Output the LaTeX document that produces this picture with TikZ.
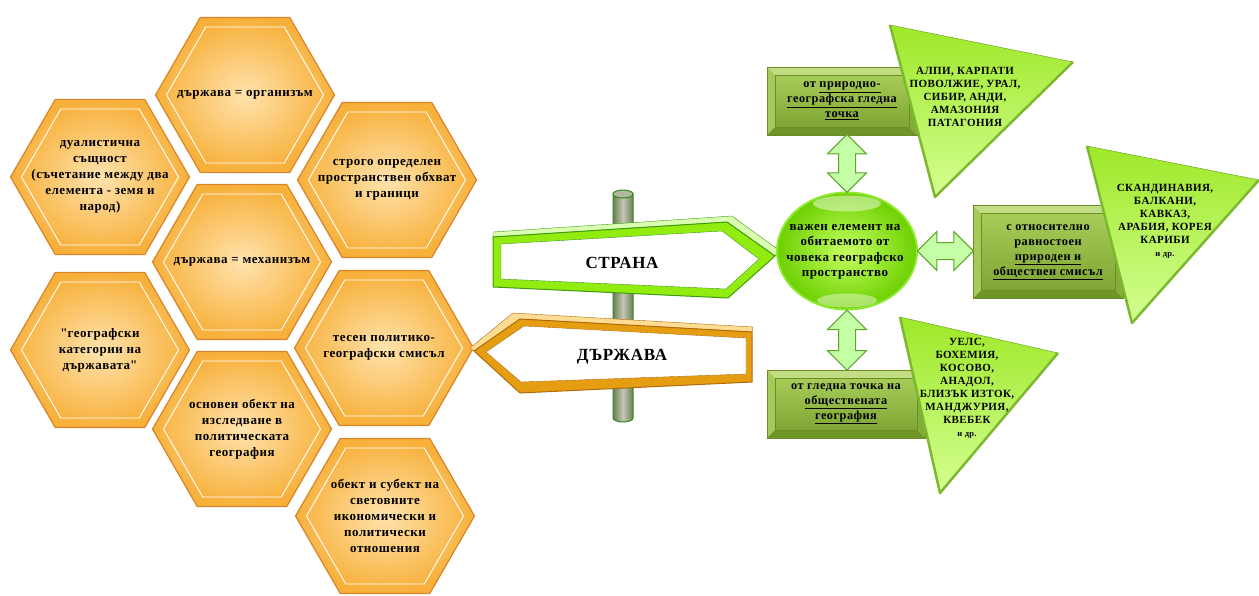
\documentclass[tikz,border=0pt]{standalone}
\usepackage{fontspec}
\setmainfont{Liberation Serif}[LetterSpace=4]
\usetikzlibrary{calc, shapes.geometric, shapes.arrows}

\definecolor{hexEdge}{HTML}{D9842A}
\definecolor{hexOut}{HTML}{F7B03A}
\definecolor{hexIn}{HTML}{FFE3AE}
\definecolor{signGreen}{HTML}{92EC10}
\definecolor{signGreenDark}{HTML}{3F9A14}
\definecolor{signGreenLight}{HTML}{DAFFB0}
\definecolor{signOr}{HTML}{E59D12}
\definecolor{signOrDark}{HTML}{B06C0C}
\definecolor{signOrLight}{HTML}{FFDC94}
\definecolor{poleDark}{HTML}{6F7C58}
\definecolor{poleLight}{HTML}{C2C8B0}
\definecolor{poleEdge}{HTML}{2F8A1C}
\definecolor{boxLight}{HTML}{C2DD84}
\definecolor{boxMid}{HTML}{A6C95A}
\definecolor{boxDark}{HTML}{6F9428}
\definecolor{boxSide}{HTML}{86AC38}
\definecolor{boxTop}{HTML}{A8CC58}
\definecolor{boxBot}{HTML}{7FA534}
\definecolor{boxEdge}{HTML}{6A8E24}
\definecolor{arrFill}{HTML}{C4FFA8}
\definecolor{arrEdge}{HTML}{5FA32A}
\definecolor{triTop}{HTML}{9EE829}
\definecolor{triBot}{HTML}{D4FF92}
\definecolor{triEdge}{HTML}{5E9B1C}
\definecolor{triSide}{HTML}{7DB830}
\definecolor{hubIn}{HTML}{C6FF62}
\definecolor{hubOut}{HTML}{6CD000}
\definecolor{hubEdge}{HTML}{8EEA2E}

\begin{document}
\begin{tikzpicture}[x=1pt,y=-1pt,
    hexa/.style={regular polygon,regular polygon sides=6,minimum size=179pt,
        inner sep=0pt,draw=hexEdge,line width=1.2pt,shading=radial,
        inner color=hexIn,outer color=hexOut,
        path picture={\node[regular polygon,regular polygon sides=6,
            minimum size=157pt,draw=white,line width=.9pt]
            at (path picture bounding box.center) {};}},
    hextxt/.style={align=center,font=\bfseries\fontsize{13}{16}\selectfont},
    signtxt/.style={font=\bfseries\fontsize{17}{20}\selectfont},
    hub/.style={ellipse,minimum width=140pt,minimum height=117pt,inner sep=0pt,
        shading=radial,inner color=hubIn,outer color=hubOut,draw=hubEdge,
        line width=2pt},
    hubtxt/.style={align=center,font=\bfseries\fontsize{13}{15.5}\selectfont},
    bevel/.style={rectangle,inner sep=0pt,align=center,fill=boxMid,
        draw=boxEdge,line width=.5pt,
        font=\bfseries\fontsize{12.3}{15}\selectfont,
        path picture={
            \coordinate (pa) at (path picture bounding box.north west);
            \coordinate (pb) at (path picture bounding box.north east);
            \coordinate (pc) at (path picture bounding box.south east);
            \coordinate (pd) at (path picture bounding box.south west);
            \fill[boxLight] (pa) -- (pb) -- ([shift={(-8,8)}]pb)
                -- ([shift={(8,8)}]pa) -- cycle;
            \fill[boxDark] (pd) -- ([shift={(8,-8)}]pd)
                -- ([shift={(-8,-8)}]pc) -- (pc) -- cycle;
            \fill[boxSide] (pb) -- (pc) -- ([shift={(-8,-8)}]pc)
                -- ([shift={(-8,8)}]pb) -- cycle;
            \shade[top color=boxTop,bottom color=boxBot,draw=boxEdge]
                ([shift={(8,8)}]pa) rectangle ([shift={(-8,-8)}]pc);}},
    tritxt/.style={align=center,font=\bfseries\fontsize{11}{13}\selectfont},
    dblarrow/.style={double arrow,double arrow head extend=11pt,
        double arrow head indent=0pt,inner xsep=0pt,inner ysep=8pt,
        fill=arrFill,draw=arrEdge,line width=1pt}]
    \useasboundingbox (0,0) rectangle (1259,595);

    % honeycomb
    \draw node [hexa] (H1) at (245,95) {};
    \draw node [hexa] (H2) at (100,177) {};
    \draw node [hexa] (H3) at (387,180) {};
    \draw node [hexa] (H4) at (242,262) {};
    \draw node [hexa] (H5) at (100,350) {};
    \draw node [hexa] (H6) at (384,348) {};
    \draw node [hexa] (H7) at (242,429) {};
    \draw node [hexa] (H8) at (385,516) {};
    \node [hextxt] (T1) at (H1) {държава = организъм};
    \node [hextxt] (T2) at (H2) {дуалистична\\същност\\(съчетание между два\\
        елемента - земя и\\народ)};
    \node [hextxt] (T3) at (H3) {строго определен\\пространствен обхват\\
        и граници};
    \node [hextxt] (T4) at (H4) {държава = механизъм};
    \node [hextxt] (T5) at (H5) {\textquotedbl географски\\категории на\\
        държавата\textquotedbl};
    \node [hextxt] (T6) at (H6) {тесен политико-\\географски смисъл};
    \node [hextxt] (T7) at (H7) {основен обект на\\изследване в\\
        политическата\\география};
    \node [hextxt] (T8) at (H8) {обект и субект на\\световните\\
        икономически и\\политически\\отношения};

    % signpost
    \shade [left color=poleDark,right color=poleDark,middle color=poleLight,
        draw=poleEdge,line width=1pt]
        (613,194) -- (613,418) arc [x radius=10,y radius=4,start angle=180,
        end angle=0] -- (633,194) -- cycle;
    \draw [fill=poleLight!80!poleDark,draw=poleEdge,line width=1pt]
        (623,194) ellipse [x radius=10,y radius=4];
    \draw [fill=signGreenLight,draw=signGreenDark,line join=round]
        (493,232) -- (732,216) -- (780,251) -- (775,256) -- (727,222)
        -- (493,237) -- cycle;
    \draw [fill=signGreen,draw=signGreenDark,line width=1pt,line join=round]
        (493,237) -- (727,222) -- (775,256) -- (728,298) -- (493,287) -- cycle;
    \draw [fill=white,draw=signGreenDark,line join=round]
        (501,244) -- (722,231) -- (759,259) -- (726,289) -- (501,279) -- cycle;
    \node [signtxt] (strana) at (622,263) {СТРАНА};
    \draw [fill=signOrLight,draw=signOrDark,line join=round]
        (470,348) -- (513,313) -- (753,327) -- (752,332) -- (520,319)
        -- (474,351) -- cycle;
    \draw [fill=signOr,draw=signOrDark,line width=1pt,line join=round]
        (474,351) -- (520,319) -- (752,332) -- (752,382) -- (520,393) -- cycle;
    \draw [fill=white,draw=signOrDark,line join=round]
        (486,352) -- (524,326) -- (746,338) -- (746,374) -- (521,382) -- cycle;
    \node [signtxt] (darzhava) at (622,357) {ДЪРЖАВА};

    % viewpoint boxes
    \node [bevel,minimum width=150pt,minimum height=68pt] (bxA) at (842,101)
        {от \underline{природно-}\\\underline{географска гледна}\\
        \underline{точка}};
    \node [bevel,minimum width=150pt,minimum height=93pt] (bxC) at (1048,252)
        {с относително\\равностоен\\\underline{природен и}\\
        \underline{обществен смисъл}};
    \node [bevel,minimum width=158pt,minimum height=68pt] (bxB) at (846,404)
        {от гледна точка на\\\underline{обществената}\\\underline{география}};

    % example triangles
    \shade [top color=triTop,bottom color=triBot,draw=triEdge,line join=round]
        (890,25) -- (1073,62) -- (935,197) -- cycle;
    \draw [triSide,line width=2.5pt,line join=round]
        (890,25) -- (935,197) -- (1073,62);
    \node [tritxt] (exA) at (965,97) {АЛПИ, КАРПАТИ\\ПОВОЛЖИЕ, УРАЛ,\\
        СИБИР, АНДИ,\\АМАЗОНИЯ\\ПАТАГОНИЯ};
    \shade [top color=triTop,bottom color=triBot,draw=triEdge,line join=round]
        (1087,146) -- (1259,180) -- (1132,323) -- cycle;
    \draw [triSide,line width=2.5pt,line join=round]
        (1087,146) -- (1132,323) -- (1259,180);
    \node [tritxt] (exC) at (1165,221) {СКАНДИНАВИЯ,\\БАЛКАНИ,\\КАВКАЗ,\\
        АРАБИЯ, КОРЕЯ\\КАРИБИ\\{\fontsize{8.5}{13}\selectfont и др.}};
    \shade [top color=triTop,bottom color=triBot,draw=triEdge,line join=round]
        (900,317) -- (1058,353) -- (940,493) -- cycle;
    \draw [triSide,line width=2.5pt,line join=round]
        (900,317) -- (940,493) -- (1058,353);
    \node [tritxt] (exB) at (967,388) {УЕЛС,\\БОХЕМИЯ,\\КОСОВО,\\АНАДОЛ,\\
        БЛИЗЪК ИЗТОК,\\МАНДЖУРИЯ,\\КВЕБЕК\\
        {\fontsize{8.5}{13}\selectfont и др.}};

    % central element
    \node [hub] (hub) at (847,251) {};
    \fill [white,opacity=.45] ($(hub.north)+(0,12)$)
        ellipse [x radius=34,y radius=8];
    \fill [white,opacity=.4] ($(hub.south)+(0,-10)$)
        ellipse [x radius=30,y radius=7];
    \node [hubtxt] (hubt) at (845,252) {важен елемент на\\обитаемото от\\
        човека географско\\пространство};

    % links
    \node [dblarrow,rotate=90,minimum height=58pt] (lkA)
        at ($(hub.north)!.5!(hub.north |- bxA.south)$) {};
    \node [dblarrow,minimum height=56pt] (lkC)
        at ($(hub.east)!.5!(hub.east -| bxC.west)$) {};
    \node [dblarrow,rotate=90,minimum height=60pt] (lkB)
        at ($(hub.south)!.5!(hub.south |- bxB.north)$) {};
\end{tikzpicture}
\end{document}
